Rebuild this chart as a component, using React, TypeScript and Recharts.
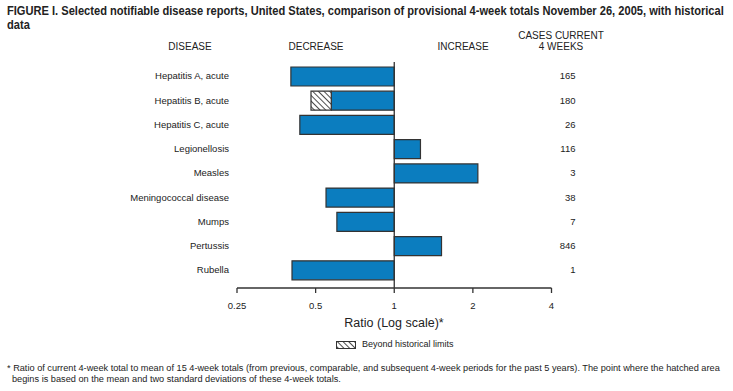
import React from 'react';
import { BarChart, Bar, XAxis, YAxis, ReferenceLine } from 'recharts';

const diseases = [
  'Hepatitis A, acute',
  'Hepatitis B, acute',
  'Hepatitis C, acute',
  'Legionellosis',
  'Measles',
  'Meningococcal disease',
  'Mumps',
  'Pertussis',
  'Rubella',
];
// ratio of current 4-week total to historical mean
const ratios = [0.402, 0.48, 0.435, 1.26, 2.09, 0.548, 0.603, 1.517, 0.406];
// historical limit (where the hatched part begins), null = within limits
const historicalLimits: (number | null)[] = [null, 0.574, null, null, null, null, null, null, null];
const casesCurrent = [165, 180, 26, 116, 3, 38, 7, 846, 1];
const axisTicks = [0.25, 0.5, 1, 2, 4];

const FONT = '"Liberation Sans", Arial, Helvetica, sans-serif';
const BLUE = '#0B7DBF';
const EDGE = '#333333';

const data = diseases.map((name, i) => {
  const lim = historicalLimits[i];
  const within = lim == null ? Math.log2(ratios[i]) : Math.log2(lim);
  const beyond = lim == null ? 0 : Math.log2(ratios[i]) - Math.log2(lim);
  return { name, within, beyond, cases: casesCurrent[i] };
});

const CasesTick = (props: any) => {
  const { x, y, index } = props;
  return (
    <text x={x + 16} y={y} dy="0.35em" textAnchor="end" fontSize={9.5} fill="#222" fontFamily={FONT}>
      {casesCurrent[index]}
    </text>
  );
};

const header: React.CSSProperties = {
  position: 'absolute',
  fontFamily: FONT,
  fontSize: 10,
  color: '#222',
  transform: 'translateX(-50%)',
  whiteSpace: 'nowrap',
  lineHeight: '11px',
  textAlign: 'center',
};

export default function App() {
  return (
    <div style={{ position: 'absolute', left: 0, top: 0, width: 733, height: 391, background: '#fff', overflow: 'hidden' }}>
      <svg width={0} height={0} style={{ position: 'absolute' }}>
        <defs>
          <pattern id="hatch" patternUnits="userSpaceOnUse" width={4} height={4} patternTransform="rotate(-45)">
            <rect width={4} height={4} fill="#fff" />
            <line x1={0} y1={0} x2={0} y2={4} stroke="#222" strokeWidth={1.6} />
          </pattern>
        </defs>
      </svg>

      <div
        style={{
          position: 'absolute',
          left: 7,
          top: 5,
          fontFamily: FONT,
          fontWeight: 'bold',
          fontSize: 12,
          lineHeight: '13.5px',
          color: '#222',
          whiteSpace: 'nowrap',
          transform: 'scaleX(0.925)',
          transformOrigin: 'left top',
        }}
      >
        FIGURE I. Selected notifiable disease reports, United States, comparison of provisional 4-week totals November 26, 2005, with historical
        <br />
        data
      </div>

      <div style={{ ...header, left: 190, top: 41 }}>DISEASE</div>
      <div style={{ ...header, left: 316, top: 41 }}>DECREASE</div>
      <div style={{ ...header, left: 463, top: 41 }}>INCREASE</div>
      <div style={{ ...header, left: 561, top: 30 }}>
        CASES CURRENT
        <br />
        4 WEEKS
      </div>

      <BarChart
        width={733}
        height={391}
        data={data}
        layout="vertical"
        margin={{ top: 62, right: 141.5, bottom: 73, left: 0 }}
        barSize={19}
        style={{ position: 'absolute', left: 0, top: 0 }}
      >
        <XAxis
          type="number"
          domain={[-2, 2]}
          ticks={axisTicks.map((t) => Math.log2(t))}
          tickFormatter={(v: number) => String(2 ** v)}
          allowDataOverflow
          height={30}
          tickSize={5}
          tickMargin={9}
          axisLine={{ stroke: EDGE, strokeWidth: 1.3 }}
          tickLine={{ stroke: EDGE, strokeWidth: 1.3 }}
          tick={{ fontSize: 9.5, fill: '#222', fontFamily: FONT }}
        />
        <YAxis
          type="category"
          dataKey="name"
          width={237}
          axisLine={false}
          tickLine={false}
          padding={{ top: 2, bottom: 6 }}
          tick={{ fontSize: 9.5, fill: '#222', fontFamily: FONT }}
        />
        <YAxis
          yAxisId="cases"
          orientation="right"
          type="category"
          dataKey="name"
          width={40}
          axisLine={false}
          tickLine={false}
          padding={{ top: 2, bottom: 6 }}
          tick={<CasesTick />}
        />
        <ReferenceLine x={0} stroke={EDGE} strokeWidth={1.3} />
        <Bar dataKey="within" stackId="r" fill={BLUE} stroke={EDGE} strokeWidth={1.2} isAnimationActive={false} />
        <Bar dataKey="beyond" stackId="r" fill="url(#hatch)" stroke={EDGE} strokeWidth={1.2} isAnimationActive={false} />
      </BarChart>

      <div
        style={{
          position: 'absolute',
          left: 394,
          top: 316,
          transform: 'translateX(-50%)',
          fontFamily: FONT,
          fontSize: 12.5,
          color: '#222',
          whiteSpace: 'nowrap',
        }}
      >
        Ratio (Log scale)*
      </div>

      <svg width={20} height={8} style={{ position: 'absolute', left: 336, top: 341 }}>
        <rect x={0.5} y={0.5} width={19} height={7} fill="url(#hatch)" stroke={EDGE} strokeWidth={1} />
      </svg>
      <div
        style={{
          position: 'absolute',
          left: 362,
          top: 339,
          fontFamily: FONT,
          fontSize: 9,
          lineHeight: '11px',
          color: '#222',
          whiteSpace: 'nowrap',
        }}
      >
        Beyond historical limits
      </div>

      <div
        style={{
          position: 'absolute',
          left: 7,
          top: 363,
          fontFamily: FONT,
          fontSize: 9.2,
          lineHeight: '11px',
          color: '#222',
          whiteSpace: 'nowrap',
        }}
      >
        * Ratio of current 4-week total to mean of 15 4-week totals (from previous, comparable, and subsequent 4-week periods for the past 5 years). The point where the hatched area
        <br />
        <span style={{ paddingLeft: 5 }}>
          begins is based on the mean and two standard deviations of these 4-week totals.
        </span>
      </div>
    </div>
  );
}
